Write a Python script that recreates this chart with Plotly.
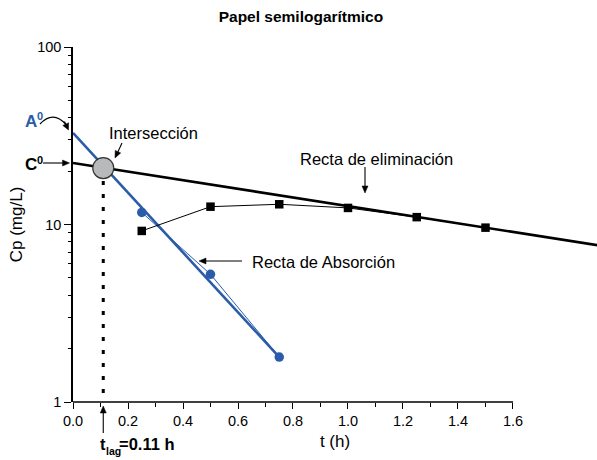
import plotly.graph_objects as go

# Observed plasma concentrations (mg/L) vs time (h)
t_obs = [0.25, 0.5, 0.75, 1.0, 1.25, 1.5]
cp_obs = [9.2, 12.6, 13.0, 12.4, 11.0, 9.6]

# Residual concentrations (method of residuals)
t_res = [0.25, 0.5, 0.75]
cp_res = [11.7, 5.24, 1.79]

# Fitted straight lines on the semilog scale (end points)
elim_t = [0.0, 1.95]
elim_cp = [22.2, 7.47]
abs_t = [0.0, 0.75]
abs_cp = [32.8, 1.79]

# Intersection of both lines -> lag time
t_lag = 0.11
cp_lag = 20.8

x_ticks = [0.0, 0.2, 0.4, 0.6, 0.8, 1.0, 1.2, 1.4, 1.6]
x_minor = [0.1, 0.3, 0.5, 0.7, 0.9, 1.1, 1.3, 1.5]
y_ticks = [1, 10, 100]
y_minor = [2, 3, 4, 5, 6, 7, 8, 9, 20, 30, 40, 50, 60, 70, 80, 90]

BLUE = "#2a5caa"
FONT = "Liberation Sans, Arial, sans-serif"

# page geometry (px)
W, H = 597, 460
M_L, M_R, M_T, M_B = 73, 0, 47, 58
PW, PH = W - M_L - M_R, H - M_T - M_B
X_MAX = 1.9055


def to_paper(px, py):
    """Page pixel position -> paper coordinates."""
    return (px - M_L) / PW, (H - M_B - py) / PH


def label(px, py, text, size, color="black", xanchor="center", bold=False):
    x, y = to_paper(px, py)
    if bold:
        text = f"<b>{text}</b>"
    return dict(xref="paper", yref="paper", x=x, y=y, text=text,
                showarrow=False, xanchor=xanchor, yanchor="middle",
                font=dict(family=FONT, size=size, color=color))


def arrow(x0, y0, x1, y1, head=7.0, half=3.0, width=1.1):
    """Straight arrow (tail -> tip) as a line shape plus a filled head."""
    dx, dy = x1 - x0, y1 - y0
    n = (dx * dx + dy * dy) ** 0.5
    ux, uy = dx / n, dy / n
    bx, by = x1 - ux * head, y1 - uy * head
    a = to_paper(x0, y0)
    b = to_paper(bx, by)
    p1 = to_paper(x1, y1)
    p2 = to_paper(bx - uy * half, by + ux * half)
    p3 = to_paper(bx + uy * half, by - ux * half)
    return [
        dict(type="line", xref="paper", yref="paper",
             x0=a[0], y0=a[1], x1=b[0], y1=b[1],
             line=dict(color="black", width=width)),
        dict(type="path", xref="paper", yref="paper",
             path=f"M {p1[0]:.5f},{p1[1]:.5f} L {p2[0]:.5f},{p2[1]:.5f} "
                  f"L {p3[0]:.5f},{p3[1]:.5f} Z",
             fillcolor="black", line=dict(color="black", width=0.5)),
    ]


fig = go.Figure()

# lag-time marker line
fig.add_trace(go.Scatter(
    x=[t_lag, t_lag], y=[cp_lag, 1], mode="lines",
    line=dict(color="black", width=3, dash="4px,9px"), hoverinfo="skip"))

# thin connectors through the points (first one also carries the minor-tick axis)
fig.add_trace(go.Scatter(
    x=t_obs, y=cp_obs, mode="lines", yaxis="y2",
    line=dict(color="black", width=1), hoverinfo="skip"))
fig.add_trace(go.Scatter(
    x=t_res, y=cp_res, mode="lines",
    line=dict(color=BLUE, width=1), hoverinfo="skip"))

# fitted lines
fig.add_trace(go.Scatter(
    x=elim_t, y=elim_cp, mode="lines",
    line=dict(color="black", width=2.6), hoverinfo="skip"))
fig.add_trace(go.Scatter(
    x=abs_t, y=abs_cp, mode="lines",
    line=dict(color=BLUE, width=2.6), hoverinfo="skip"))

# markers
fig.add_trace(go.Scatter(
    x=t_obs, y=cp_obs, mode="markers",
    marker=dict(symbol="square", size=8.5, color="black")))
fig.add_trace(go.Scatter(
    x=t_res, y=cp_res, mode="markers",
    marker=dict(symbol="circle", size=9.5, color=BLUE)))
fig.add_trace(go.Scatter(
    x=[t_lag], y=[cp_lag], mode="markers",
    marker=dict(symbol="circle", size=21, color="#b7b9bb",
                line=dict(color="#333333", width=1.2)),
    cliponaxis=False))

ann_font = dict(family=FONT, size=16.5, color="black")

annotations = [
    # labels inside the plot (data coordinates; y in log10 units)
    dict(x=0.291, y=1.515, text="Intersección", showarrow=False,
         font=ann_font, xanchor="center", yanchor="middle"),
    dict(x=1.1036, y=1.369, text="Recta de eliminación", showarrow=False,
         font=ann_font, xanchor="center", yanchor="middle"),
    dict(x=0.9127, y=0.7887, text="Recta de Absorción", showarrow=False,
         font=ann_font, xanchor="center", yanchor="middle"),
    # C0 and A0 (letter + raised zero)
    label(30.5, 164.5, "C", 17, bold=True),
    label(39.5, 159.5, "0", 11, bold=True),
    label(30.5, 121, "A", 17, color=BLUE, bold=True),
    label(39.5, 116, "0", 11, color=BLUE, bold=True),
    # t_lag = 0.11 h (letter + lowered subscript + value)
    label(97.5, 444, "t", 16.5, xanchor="left", bold=True),
    label(103.5, 451, "lag", 10.5, xanchor="left", bold=True),
    label(117, 444, "=0.11 h", 16.5, xanchor="left", bold=True),
]

# curved stroke leading to the A0 arrowhead
c0 = to_paper(40, 124)
c1 = to_paper(53, 110)
c2 = to_paper(66, 124.5)
shapes = [
    dict(type="path", xref="paper", yref="paper",
         path=f"M {c0[0]:.5f},{c0[1]:.5f} Q {c1[0]:.5f},{c1[1]:.5f} "
              f"{c2[0]:.5f},{c2[1]:.5f}",
         line=dict(color="black", width=1.3)),
    # x axis line ending at 1.6
    dict(type="line", xref="x", yref="paper", x0=-0.003, x1=1.6, y0=0, y1=0,
         line=dict(color="black", width=1.5)),
]
t_lag_px = M_L + t_lag / X_MAX * PW
shapes += arrow(122, 143, 115, 158)            # Intersección
shapes += arrow(365, 167, 365, 193)            # Recta de eliminación
shapes += arrow(242, 261, 199, 261)            # Recta de Absorción
shapes += arrow(43, 163, 69.5, 163)            # C0
shapes += arrow(t_lag_px, 433, t_lag_px, 406)  # t_lag
shapes += arrow(64.5, 121.5, 68.5, 130, head=6.5, half=3.2)  # A0 head

fig.update_layout(
    width=W, height=H,
    margin=dict(l=M_L, r=M_R, t=M_T, b=M_B),
    paper_bgcolor="white", plot_bgcolor="white",
    showlegend=False,
    font=dict(family=FONT, color="black"),
    title=dict(text="<b>Papel semilogarítmico</b>", x=0.435, xref="paper",
               xanchor="center", y=0.963, yanchor="middle",
               font=dict(family=FONT, size=15.5, color="black")),
    annotations=annotations,
    shapes=shapes,
    xaxis=dict(
        range=[0, X_MAX], showgrid=False, zeroline=False, showline=False,
        tickmode="array", tickvals=x_ticks,
        ticktext=[f"{v:.1f}" for v in x_ticks],
        ticks="outside", ticklen=6, tickwidth=1.3, tickcolor="black",
        tickfont=dict(family=FONT, size=14.5, color="black"),
        minor=dict(tickmode="array", tickvals=x_minor, ticks="outside",
                   ticklen=3.5, tickwidth=1.2, tickcolor="black"),
        title=dict(text="t (h)", standoff=6,
                   font=dict(family=FONT, size=17, color="black")),
    ),
    yaxis=dict(
        type="log", range=[0, 2], showgrid=False, zeroline=False,
        showline=True, linecolor="black", linewidth=1.5,
        tickmode="array", tickvals=y_ticks, ticktext=["1", "10", "100"],
        ticks="outside", ticklen=7, tickwidth=1.3, tickcolor="black",
        tickfont=dict(family=FONT, size=14.5, color="black"),
        title=dict(text="Cp (mg/L)", standoff=10,
                   font=dict(family=FONT, size=17, color="black")),
    ),
    # overlay axis used only for the minor log ticks
    yaxis2=dict(
        type="log", range=[0, 2], overlaying="y", side="left",
        showgrid=False, zeroline=False, showline=False,
        tickmode="array", tickvals=y_minor, showticklabels=False,
        ticks="outside", ticklen=4.5, tickwidth=1.2, tickcolor="black",
    ),
)

fig.write_html("out.html")
